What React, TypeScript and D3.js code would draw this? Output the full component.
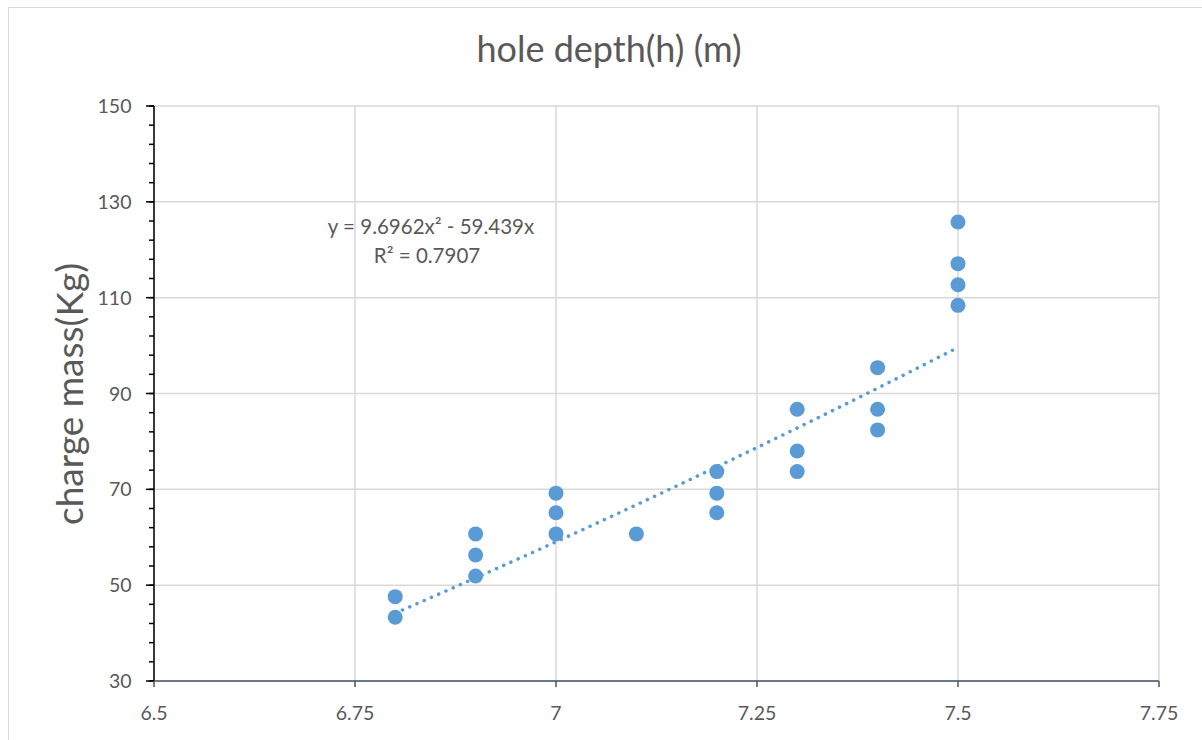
import React from "react";
import * as d3 from "d3";

// hole depth (m) vs charge mass (kg)
const depths = [6.8, 6.8, 6.9, 6.9, 6.9, 7.0, 7.0, 7.0, 7.1, 7.2, 7.2, 7.2, 7.3, 7.3, 7.3, 7.4, 7.4, 7.4, 7.5, 7.5, 7.5, 7.5];
const masses = [47.6, 43.3, 60.7, 56.3, 51.9, 69.2, 65.1, 60.7, 60.7, 73.7, 69.2, 65.1, 86.7, 78.0, 73.7, 95.4, 86.7, 82.4, 125.8, 117.1, 112.7, 108.4];

const xTicks = [6.5, 6.75, 7, 7.25, 7.5, 7.75];
const yTicks = [30, 50, 70, 90, 110, 130, 150];
const yMinorTicks = d3.range(30, 150.01, 4);

// polynomial trendline y = a x^2 + b x
const trendA = 9.6962;
const trendB = -59.439;
const trendFrom = 6.8;
const trendTo = 7.5;

const W = 1202;
const H = 740;
const font = "Lato, 'Open Sans', sans-serif";
const grey = "#595959";
const blue = "#5b9bd5";

export default function App() {
  const x = d3.scaleLinear().domain([6.5, 7.75]).range([154, 1159]);
  const y = d3.scaleLinear().domain([30, 150]).range([681, 106]);

  const trendPts = d3.range(trendFrom, trendTo + 0.0001, 0.01).map(v => [v, trendA * v * v + trendB * v] as [number, number]);
  const trendPath = d3.line<[number, number]>().x(d => x(d[0])).y(d => y(d[1]))(trendPts) || "";

  return (
    <svg width={W} height={H} style={{ position: "absolute", left: 0, top: 0, background: "#fff" }} fontFamily={font}>
      <rect x={8.5} y={7.5} width={1210} height={760} fill="#fff" stroke="#d9d9d9" strokeWidth={1} />

      {/* gridlines */}
      {yTicks.map(t => (
        <line key={"gy" + t} x1={x(6.5)} x2={x(7.75)} y1={y(t)} y2={y(t)} stroke="#d9d9d9" strokeWidth={1.5} />
      ))}
      {xTicks.map(t => (
        <line key={"gx" + t} x1={x(t)} x2={x(t)} y1={y(150)} y2={y(30)} stroke="#d9d9d9" strokeWidth={1.5} />
      ))}

      {/* y axis */}
      <line x1={x(6.5)} x2={x(6.5)} y1={y(150)} y2={y(30)} stroke="#000" strokeWidth={1.5} />
      {yMinorTicks.map(t => (
        <line key={"my" + t} x1={x(6.5) - 5} x2={x(6.5)} y1={y(t)} y2={y(t)} stroke="#000" strokeWidth={1.5} />
      ))}
      {yTicks.map(t => (
        <g key={"ty" + t}>
          <line x1={x(6.5) - 8} x2={x(6.5)} y1={y(t)} y2={y(t)} stroke="#000" strokeWidth={1.5} />
          <text x={131.5} y={y(t) + 7} textAnchor="end" fontSize={19.5} fill={grey}>{t}</text>
        </g>
      ))}

      {/* x axis */}
      <line x1={x(6.5)} x2={x(7.75)} y1={y(30)} y2={y(30)} stroke="#44546a" strokeWidth={1.5} />
      {xTicks.map(t => (
        <g key={"tx" + t}>
          <line x1={x(t)} x2={x(t)} y1={y(30)} y2={y(30) + 6} stroke="#44546a" strokeWidth={1.5} />
          <text x={x(t)} y={720} textAnchor="middle" fontSize={19.5} fill={grey}>{String(t)}</text>
        </g>
      ))}

      {/* trendline */}
      <path d={trendPath} fill="none" stroke={blue} strokeWidth={3.5} strokeLinecap="round" strokeDasharray="0.1 7.8" />

      {/* points */}
      {depths.map((d, i) => (
        <circle key={"p" + i} cx={x(d)} cy={y(masses[i])} r={7.5} fill={blue} />
      ))}

      {/* equation */}
      <text x={431} y={234} textAnchor="middle" fontSize={20.5} fill={grey}>y = 9.6962x² - 59.439x</text>
      <text x={427} y={263} textAnchor="middle" fontSize={20.5} fill={grey}>R² = 0.7907</text>

      {/* titles */}
      <text x={609} y={62} textAnchor="middle" fontSize={36} fill={grey}>hole depth(h) (m)</text>
      <text transform={`translate(83, 394) rotate(-90)`} textAnchor="middle" fontSize={37} fill={grey}>charge mass(Kg)</text>
    </svg>
  );
}
